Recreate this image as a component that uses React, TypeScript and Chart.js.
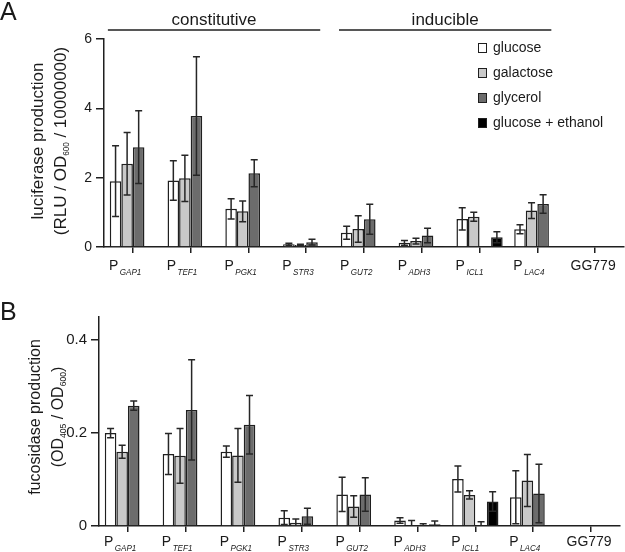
import React, { useEffect, useRef } from 'react';
import { Chart, registerables } from 'chart.js';

Chart.register(...registerables);

// ---------- data ----------
const categories = ['P_GAP1', 'P_TEF1', 'P_PGK1', 'P_STR3', 'P_GUT2', 'P_ADH3', 'P_ICL1', 'P_LAC4', 'GG779'];
const seriesNames = ['glucose', 'galactose', 'glycerol', 'glucose + ethanol'];
const seriesColors = ['#ffffff', '#c9c9c9', '#6c6c6c', '#000000'];

// Panel A: luciferase production (RLU / OD600 / 10000000)
const lucGlucose = [1.9, 1.92, 1.1, 0.08, 0.41, 0.12, 0.81, 0.51, 0];
const lucGlucoseErr = [1.02, 0.57, 0.29, 0.03, 0.19, 0.07, 0.32, 0.13, 0];
const lucGalactose = [2.4, 1.98, 1.03, 0.06, 0.52, 0.17, 0.87, 1.05, 0];
const lucGalactoseErr = [0.9, 0.67, 0.3, 0.02, 0.38, 0.08, 0.13, 0.23, 0];
const lucGlycerol = [2.88, 3.78, 2.13, 0.14, 0.8, 0.33, 0, 1.24, 0];
const lucGlycerolErr = [1.05, 1.71, 0.39, 0.08, 0.43, 0.21, 0, 0.27, 0];
const lucEthanol = [0, 0, 0, 0, 0, 0.01, 0.28, 0, 0];
const lucEthanolErr = [0, 0, 0, 0, 0, 0, 0.16, 0, 0];
const lucTicks = [0, 2, 4, 6];

// Panel B: fucosidase production (OD405 / OD600)
const fucGlucose = [0.2, 0.155, 0.16, 0.018, 0.068, 0.012, 0.101, 0.062, 0];
const fucGlucoseErr = [0.01, 0.044, 0.012, 0.015, 0.037, 0.006, 0.028, 0.057, 0];
const fucGalactose = [0.16, 0.151, 0.152, 0.007, 0.042, 0.002, 0.067, 0.098, 0];
const fucGalactoseErr = [0.014, 0.059, 0.058, 0.008, 0.023, 0.01, 0.009, 0.056, 0];
const fucGlycerol = [0.259, 0.25, 0.218, 0.021, 0.068, 0, 0, 0.07, 0];
const fucGlycerolErr = [0.01, 0.108, 0.063, 0.017, 0.036, 0.005, 0.009, 0.063, 0];
const fucEthanol = [0, 0, 0, 0, 0, 0.004, 0.053, 0, 0];
const fucEthanolErr = [0, 0, 0, 0, 0, 0.007, 0.021, 0, 0];
const fucTicks = [0, 0.2, 0.4];

const groupLabels = ['constitutive', 'inducible'];
const groupRanges = [[0, 3], [4, 7]];

// ---------- styling ----------
const FONT = '"Liberation Sans", Arial, Helvetica, sans-serif';
const TEXT = '#1a1a1a';
const EDGE = '#1f1f1f';

type Seg = { t: string; sub?: boolean };

function drawRich(ctx: CanvasRenderingContext2D, segs: Seg[], size: number, subSize: number, subShift: number, subScale: number) {
  let total = 0;
  const widths = segs.map((s) => {
    ctx.font = `${s.sub ? subSize : size}px ${FONT}`;
    const w = ctx.measureText(s.t).width * (s.sub ? subScale : 1);
    total += w;
    return w;
  });
  let x = -total / 2;
  segs.forEach((s, i) => {
    ctx.font = `${s.sub ? subSize : size}px ${FONT}`;
    if (s.sub) {
      ctx.save();
      ctx.translate(x, subShift);
      ctx.scale(subScale, 1);
      ctx.fillText(s.t, 0, 0);
      ctx.restore();
    } else {
      ctx.fillText(s.t, x, 0);
    }
    x += widths[i];
  });
}

const errorBarPlugin = {
  id: 'errorBars',
  afterDatasetsDraw(chart: any) {
    const { ctx } = chart;
    const y = chart.scales.y;
    ctx.save();
    ctx.strokeStyle = '#262626';
    ctx.lineWidth = 1.5;
    chart.data.datasets.forEach((ds: any, di: number) => {
      const meta = chart.getDatasetMeta(di);
      meta.data.forEach((bar: any, i: number) => {
        const v = ds.data[i];
        const e = ds.errors ? ds.errors[i] : 0;
        if (!e) return;
        const x = bar.x;
        const lowV = v - e;
        const pHi = y.getPixelForValue(v + e);
        const pLo = y.getPixelForValue(Math.max(0, lowV));
        const cap = 3.5;
        ctx.beginPath();
        ctx.moveTo(x, pLo);
        ctx.lineTo(x, pHi);
        ctx.moveTo(x - cap, pHi);
        ctx.lineTo(x + cap, pHi);
        if (lowV > 0) {
          ctx.moveTo(x - cap, pLo);
          ctx.lineTo(x + cap, pLo);
        }
        ctx.stroke();
      });
    });
    ctx.restore();
  },
};

const decorPlugin = {
  id: 'decor',
  afterDraw(chart: any, _args: any, o: any) {
    const ctx: CanvasRenderingContext2D = chart.ctx;
    const xs = chart.scales.x;
    const area = chart.chartArea;
    ctx.save();
    ctx.fillStyle = TEXT;
    ctx.strokeStyle = EDGE;
    ctx.textBaseline = 'alphabetic';

    // panel letter
    ctx.font = `25px ${FONT}`;
    ctx.textAlign = 'left';
    ctx.fillText(o.letter, 0, o.letterY);

    // x category labels
    chart.data.labels.forEach((c: string, i: number) => {
      const px = xs.getPixelForValue(i);
      if (c.includes('_')) {
        const [p, sub] = c.split('_');
        ctx.font = `14px ${FONT}`;
        ctx.textAlign = 'left';
        const x0 = px - 24;
        ctx.fillText(p, x0, area.bottom + o.pDy);
        const pw = ctx.measureText(p).width;
        ctx.save();
        ctx.translate(x0 + pw + 1.5, area.bottom + o.subDy);
        ctx.scale(0.85, 1);
        ctx.font = `italic 9.5px ${FONT}`;
        ctx.fillText(sub, 0, 0);
        ctx.restore();
      } else {
        ctx.font = `14px ${FONT}`;
        ctx.textAlign = 'center';
        ctx.fillText(c, px - 2, area.bottom + o.pDy);
      }
    });

    // y title (rotated, two lines)
    ctx.textAlign = 'left';
    o.titleLines.forEach((segs: Seg[], li: number) => {
      ctx.save();
      ctx.translate(o.titleX[li], o.titleCY);
      ctx.rotate(-Math.PI / 2);
      drawRich(ctx, segs, o.titleSize, o.titleSubSize, 3, 0.9);
      ctx.restore();
    });

    // group headers + legend
    if (o.header) {
      ctx.lineWidth = 1.5;
      groupLabels.forEach((g, gi) => {
        const [a, b] = groupRanges[gi];
        const x1 = xs.getPixelForValue(a) - 25;
        const x2 = xs.getPixelForValue(b) + 14;
        ctx.beginPath();
        ctx.moveTo(x1, 30);
        ctx.lineTo(x2, 30);
        ctx.stroke();
        ctx.font = `17px ${FONT}`;
        ctx.textAlign = 'center';
        ctx.fillText(g, (x1 + x2) / 2, 25);
      });
      ctx.textBaseline = 'middle';
      ctx.textAlign = 'left';
      ctx.font = `14px ${FONT}`;
      ctx.lineWidth = 1;
      chart.data.datasets.forEach((ds: any, k: number) => {
        const cy = 48 + k * 25;
        ctx.fillStyle = ds.backgroundColor;
        ctx.fillRect(478.5, cy - 4.5, 8, 9);
        ctx.strokeRect(478.5, cy - 4.5, 8, 9);
        ctx.fillStyle = TEXT;
        ctx.fillText(ds.label, 493, cy + 0.5);
      });
    }
    ctx.restore();
  },
};

function buildConfig(p: any) {
  return {
    type: 'bar',
    data: {
      labels: categories,
      datasets: p.values.map((vals: number[], k: number) => ({
        label: seriesNames[k],
        data: vals,
        errors: p.errors[k],
        backgroundColor: seriesColors[k],
        borderColor: EDGE,
        borderWidth: 1.5,
        categoryPercentage: 0.8,
        barPercentage: 1,
      })),
    },
    options: {
      responsive: false,
      animation: false,
      layout: { padding: { top: p.top, right: p.right, left: 0, bottom: 0 } },
      plugins: {
        legend: { display: false },
        tooltip: { enabled: false },
        title: { display: false },
        decor: p.decor,
      },
      scales: {
        x: {
          grid: { display: true, drawOnChartArea: false, offset: false, tickLength: 6, color: EDGE, lineWidth: 1.5 },
          border: { display: true, color: EDGE, width: 1.5 },
          ticks: { autoSkip: false, maxRotation: 0, callback: () => '' },
          afterFit: (s: any) => { s.height = p.xHeight; },
        },
        y: {
          min: 0,
          max: p.max,
          grid: { drawOnChartArea: false, tickLength: 8, color: EDGE, lineWidth: 1.5 },
          border: { display: true, color: EDGE, width: 1.5 },
          ticks: { font: { family: FONT, size: p.tickSize }, color: TEXT, padding: 4 },
          afterBuildTicks: (s: any) => { s.ticks = p.ticks.map((v: number) => ({ value: v })); },
          afterFit: (s: any) => { s.width = p.yWidth; },
        },
      },
    },
    plugins: [errorBarPlugin, decorPlugin],
  };
}

const panelA = {
  values: [lucGlucose, lucGalactose, lucGlycerol, lucEthanol],
  errors: [lucGlucoseErr, lucGalactoseErr, lucGlycerolErr, lucEthanolErr],
  ticks: lucTicks,
  max: 6,
  top: 39,
  right: 1,
  xHeight: 38,
  yWidth: 104,
  tickSize: 14,
  decor: {
    letter: 'A',
    letterY: 20,
    pDy: 23,
    subDy: 27.5,
    header: true,
    titleSize: 17,
    titleSubSize: 9,
    titleX: [43, 65.5],
    titleCY: 141,
    titleLines: [
      [{ t: 'luciferase production' }],
      [{ t: '(RLU / OD' }, { t: '600', sub: true }, { t: ' / 10000000)' }],
    ],
  },
};

const panelB = {
  values: [fucGlucose, fucGalactose, fucGlycerol, fucEthanol],
  errors: [fucGlucoseErr, fucGalactoseErr, fucGlycerolErr, fucEthanolErr],
  ticks: fucTicks,
  max: 0.45,
  top: 32,
  right: 5,
  xHeight: 26,
  yWidth: 99,
  tickSize: 15,
  decor: {
    letter: 'B',
    letterY: 35,
    pDy: 20,
    subDy: 25,
    header: false,
    titleSize: 16,
    titleSubSize: 9.5,
    titleX: [40, 62.5],
    titleCY: 132,
    titleLines: [
      [{ t: 'fucosidase production' }],
      [{ t: '(OD' }, { t: '405', sub: true }, { t: ' / OD' }, { t: '600', sub: true }, { t: ')' }],
    ],
  },
};

function Panel({ cfg, top, height }: { cfg: any; top: number; height: number }) {
  const ref = useRef<HTMLCanvasElement | null>(null);
  useEffect(() => {
    if (!ref.current) return;
    const chart = new Chart(ref.current, buildConfig(cfg) as any);
    return () => chart.destroy();
  }, [cfg]);
  return (
    <canvas
      ref={ref}
      width={625}
      height={height}
      style={{ position: 'absolute', left: 0, top, width: 625, height }}
    />
  );
}

export default function App() {
  return (
    <div style={{ position: 'fixed', left: 0, top: 0, width: 625, height: 552, background: '#ffffff' }}>
      <Panel cfg={panelA} top={0} height={285} />
      <Panel cfg={panelB} top={285} height={267} />
    </div>
  );
}
